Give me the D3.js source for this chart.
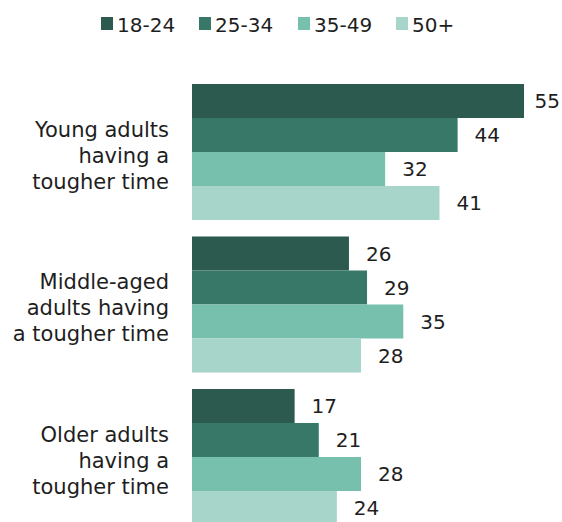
<!DOCTYPE html>
<html>
<head>
<meta charset="utf-8">
<script src="https://cdn.jsdelivr.net/npm/d3@7"></script>
<style>
  html, body { margin: 0; padding: 0; background: #fff; }
  svg { display: block; overflow: hidden; }
  text { font-family: "DejaVu Sans", Verdana, sans-serif; fill: #1e1e1e; }
</style>
</head>
<body>
<svg id="chart" width="562" height="522"></svg>
<script>
// Perceptions of which age group is having a tougher time, by respondent age
const categories = [
  ["Young adults", "having a", "tougher time"],
  ["Middle-aged", "adults having", "a tougher time"],
  ["Older adults", "having a", "tougher time"]
];
const seriesNames = ["18-24", "25-34", "35-49", "50+"];
const s1824 = [55, 26, 17];
const s2534 = [44, 29, 21];
const s3549 = [32, 35, 28];
const s50plus = [41, 28, 24];
const colors = ["#2c5a4f", "#387868", "#78c0ae", "#a7d5c9"];

const series = [s1824, s2534, s3549, s50plus];
const W = 562, H = 522;
const svg = d3.select("#chart");

const catKeys = categories.map((c, i) => i);

const x = d3.scaleLinear().domain([0, 55]).range([192, 524]);
const y0 = d3.scaleBand().domain(catKeys).range([84, 525]).paddingInner(0.108).paddingOuter(0);
const y1 = d3.scaleBand().domain(seriesNames).range([0, y0.bandwidth()]).padding(0);
const color = d3.scaleOrdinal().domain(seriesNames).range(colors);

// Legend
const legend = svg.append("g");
const legendX = [101, 199, 298, 396];
seriesNames.forEach((name, i) => {
  const g = legend.append("g").attr("transform", `translate(${legendX[i]},0)`);
  g.append("rect").attr("x", 0).attr("y", 17).attr("width", 12).attr("height", 13).attr("fill", color(name));
  g.append("text").attr("x", 16).attr("y", 31.5).attr("font-size", 20).text(name);
});

// Bars and value labels
const groups = svg.selectAll("g.cat").data(catKeys).join("g")
  .attr("class", "cat")
  .attr("transform", d => `translate(0,${y0(d)})`);

groups.each(function(ci) {
  const g = d3.select(this);
  const rows = seriesNames.map((name, si) => ({ name, value: series[si][ci] }));
  g.selectAll("rect").data(rows).join("rect")
    .attr("x", x(0))
    .attr("y", d => y1(d.name))
    .attr("width", d => x(d.value) - x(0))
    .attr("height", y1.bandwidth())
    .attr("fill", d => color(d.name));
  g.selectAll("text.val").data(rows).join("text")
    .attr("class", "val")
    .attr("font-size", 20)
    .attr("y", d => y1(d.name) + y1.bandwidth() / 2)
    .attr("dy", "0.36em")
    .text(d => d.value)
    .attr("x", function(d) {
      const w = this.getComputedTextLength();
      return Math.min(x(d.value) + 17, W - 2 - w);
    });
});

// Category labels, right-aligned to the left of the bars
groups.each(function(ci) {
  const g = d3.select(this);
  const lines = categories[ci];
  const mid = y0.bandwidth() / 2 + 11;
  const t = g.append("text").attr("text-anchor", "end").attr("font-size", 21);
  lines.forEach((line, li) => {
    t.append("tspan").attr("x", 169).attr("y", mid + (li - 1) * 26).text(line);
  });
});
</script>
</body>
</html>
